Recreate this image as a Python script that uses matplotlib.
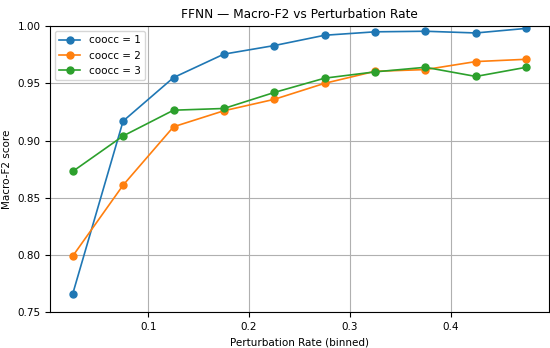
import matplotlib
matplotlib.use("Agg")
import matplotlib.pyplot as plt

# centres des bins de taux de perturbation
rates = [0.025, 0.075, 0.125, 0.175, 0.225, 0.275, 0.325, 0.375, 0.425, 0.475]

coocc1 = [0.766, 0.917, 0.955, 0.9755, 0.983, 0.992, 0.995, 0.9955, 0.994, 0.998]
coocc2 = [0.799, 0.861, 0.912, 0.926, 0.936, 0.950, 0.9605, 0.962, 0.969, 0.971]
coocc3 = [0.873, 0.904, 0.9265, 0.928, 0.942, 0.9545, 0.960, 0.964, 0.956, 0.964]

series = {"coocc = 1": coocc1, "coocc = 2": coocc2, "coocc = 3": coocc3}

fig, ax = plt.subplots(figsize=(5.5, 3.48), dpi=100)
for label, values in series.items():
    ax.plot(rates, values, marker="o", markersize=5, linewidth=1.2, label=label)

ax.set_ylim(0.75, 1.0)
ax.set_title("FFNN — Macro-F2 vs Perturbation Rate", fontsize=8.7)
ax.set_xlabel("Perturbation Rate (binned)", fontsize=7.5)
ax.set_ylabel("Macro-F2 score", fontsize=7.5)
ax.tick_params(labelsize=7.5)
ax.grid(True)
ax.legend(loc="upper left", fontsize=7.5)

fig.subplots_adjust(left=0.091, right=0.998, top=0.925, bottom=0.103)
fig.savefig("out.png")
